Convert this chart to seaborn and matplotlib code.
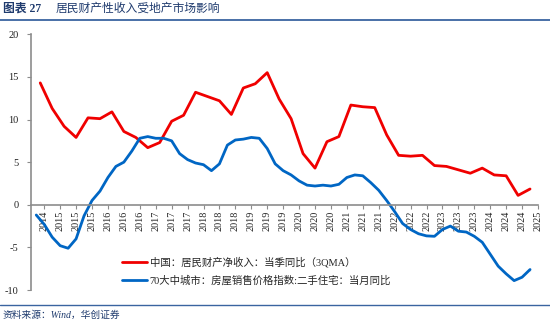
import matplotlib
matplotlib.use("Agg")
import matplotlib.pyplot as plt
from matplotlib.lines import Line2D
import seaborn as sns
import pandas as pd

# ---- data ----
red_start = "2014-12"   # quarterly, 3QMA
red_values = [14.3, 11.3, 9.2, 7.9, 10.2, 10.1, 10.9, 8.6, 7.9, 6.7,
              7.3, 9.8, 10.5, 13.2, 12.7, 12.2, 10.6, 13.7, 14.2, 15.5,
              12.4, 10.1, 6.0, 4.3, 7.4, 8.0, 11.7, 11.5, 11.4, 8.2,
              5.8, 5.7, 5.8, 4.6, 4.5, 4.1, 3.7, 4.3, 3.5, 3.4,
              1.1, 1.85]
blue_start = "2014-12"  # every 2 months
blue_values = [-1.2, -2.3, -3.8, -4.8, -5.1, -4.0, -1.3, 0.5, 1.6, 3.2,
               4.5, 5.0, 6.3, 7.8, 8.0, 7.8, 7.8, 7.5, 6.0, 5.3,
               4.9, 4.7, 4.0, 4.8, 7.0, 7.6, 7.7, 7.9, 7.8, 6.6,
               4.8, 4.0, 3.5, 2.8, 2.3, 2.2, 2.3, 2.2, 2.4, 3.2,
               3.5, 3.4, 2.6, 1.7, 0.5, -0.8, -2.2, -2.9, -3.4, -3.65,
               -3.7, -2.9, -2.5, -3.1, -3.2, -3.7, -4.4, -5.8, -7.2, -8.1,
               -8.9, -8.5, -7.8]
blue_last = ("2025-05", -7.4)
tick_labels = ["2014"] + [str(y) for y in range(2015, 2025) for _ in range(3)] + ["2025"]
red_label = "中国：居民财产净收入：当季同比（3QMA）"
blue_label = "70大中城市：房屋销售价格指数:二手住宅：当月同比"
title_num = "图表 27"
title_text = "居民财产性收入受地产市场影响"
source_text = "资料来源：Wind，华创证券"

# ---- build frames ----
base = pd.Period("2014-12", freq="M")
red_periods = pd.period_range(red_start, periods=len(red_values), freq="3M")
blue_periods = list(pd.period_range(blue_start, periods=len(blue_values), freq="2M")) + [pd.Period(blue_last[0], freq="M")]
df_red = pd.DataFrame({"m": [(p.asfreq("M") - base).n for p in red_periods], "v": red_values})
df_blue = pd.DataFrame({"m": [(p.asfreq("M") - base).n for p in blue_periods], "v": blue_values + [blue_last[1]]})
tick_periods = pd.period_range("2014-12", periods=len(tick_labels), freq="4M")
tick_pos = [(p.asfreq("M") - base).n for p in tick_periods]

sns.set_style("white")
plt.rcParams["font.family"] = ["Liberation Serif", "Noto Sans CJK SC", "DejaVu Sans"]

RED = "#F00000"
BLUE = "#0066C4"
NAVY = "#1F3B6E"
GRAY = "#8C8C8C"

fig = plt.figure(figsize=(5.5, 3.23), dpi=100)
ax = fig.add_axes([31 / 550, 1 - 290 / 323, (538 - 31) / 550, (290 - 34.3) / 323])

sns.lineplot(data=df_red, x="m", y="v", color=RED, lw=2.0, ax=ax)
sns.lineplot(data=df_blue, x="m", y="v", color=BLUE, lw=2.0, ax=ax)
for ln in ax.get_lines():
    ln.set_solid_joinstyle("round")
    ln.set_solid_capstyle("round")

ax.set_xlim(-0.32, 125.6)
ax.set_ylim(-10, 20)
ax.set_xlabel("")
ax.set_ylabel("")
ax.set_yticks([-10, -5, 0, 5, 10, 15, 20])
ax.set_yticklabels(["-10", "-5", "0", "5", "10", "15", "20"])
ax.set_xticks(tick_pos)
ax.set_xticklabels(tick_labels)

for s in ["top", "right"]:
    ax.spines[s].set_visible(False)
ax.spines["bottom"].set_position(("data", 0))
ax.spines["bottom"].set_color(GRAY)
ax.spines["left"].set_color(GRAY)
ax.spines["bottom"].set_linewidth(1.2)
ax.spines["left"].set_linewidth(1.2)
ax.tick_params(axis="y", direction="out", length=3, width=0.8, color=GRAY,
               labelsize=7.5, labelcolor="#222222", pad=6, left=True)
ax.tick_params(axis="x", direction="out", length=3, width=0.8, color=GRAY,
               labelsize=7.3, labelcolor="#222222", pad=1, bottom=True,
               labelrotation=90)

handles = [Line2D([], [], color=RED, lw=2.0), Line2D([], [], color=BLUE, lw=2.0)]
fig.legend(handles, [red_label, blue_label], loc="upper left",
           bbox_to_anchor=(120 / 550, 1 - 255 / 323), frameon=False,
           fontsize=7.5, handlelength=2.4, handletextpad=0.25,
           labelspacing=0.75, borderaxespad=0, borderpad=0.2)

# title and rules
fig.text(3 / 550, 1 - 9 / 323, title_num, fontsize=8.5, fontweight="bold",
         color=NAVY, va="center", ha="left")
fig.text(56 / 550, 1 - 9 / 323, title_text, fontsize=8.5, style="italic",
         color=NAVY, va="center", ha="left")
fig.add_artist(Line2D([0, 1], [1 - 20 / 323, 1 - 20 / 323], color="#3A64A0", lw=1.3,
                      transform=fig.transFigure))
fig.add_artist(Line2D([0, 1], [1 - 305 / 323, 1 - 305 / 323], color="#3A64A0", lw=1.0,
                      transform=fig.transFigure))
fig.text(3 / 550, 1 - 315 / 323, source_text, fontsize=7, style="italic",
         color=NAVY, va="center", ha="left")

fig.savefig("out.png", dpi=100)
